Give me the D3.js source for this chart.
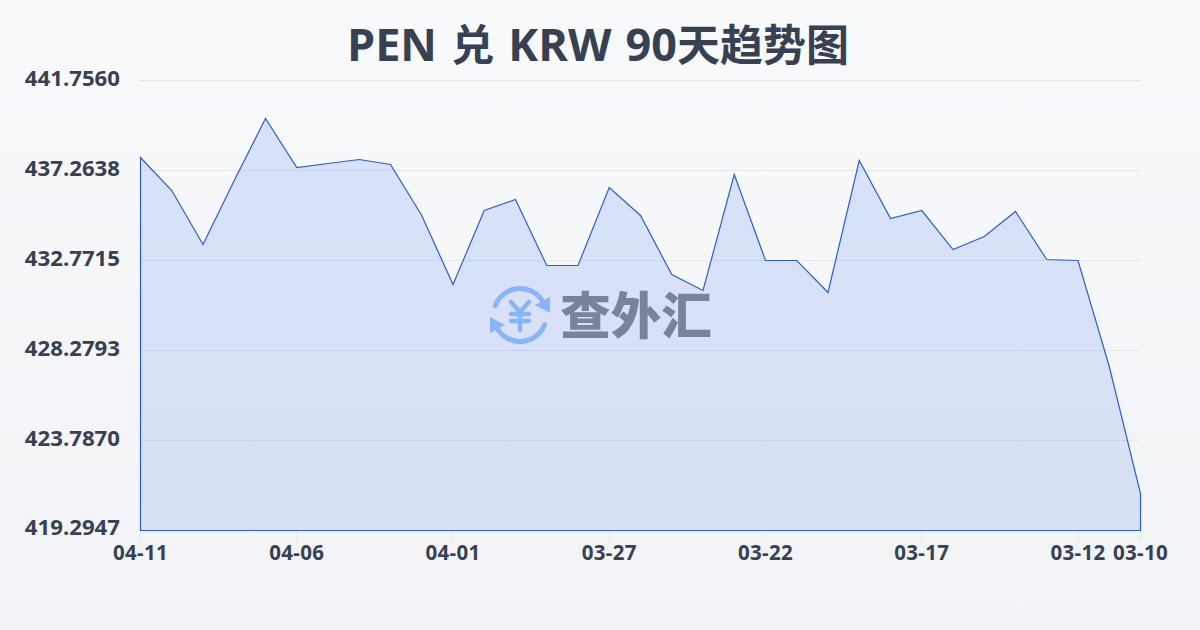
<!DOCTYPE html>
<html><head><meta charset="utf-8">
<script src="https://cdn.jsdelivr.net/npm/d3@7"></script>
<style>html,body{margin:0;padding:0;background:#f8fafc}svg{display:block}
text{font-family:"Open Sans","Noto Sans CJK SC",sans-serif}</style></head>
<body><svg id="c" width="1200" height="630"></svg>
<script>
const titleLatin = "PEN ";
const titleCjk1 = "兑";
const titleLatin2 = " KRW 90";
const titleCjk2 = "天趋势图";
const dates = ["04-11","04-10","04-09","04-08","04-07","04-06","04-05","04-04","04-03","04-02","04-01","03-31","03-30","03-29","03-28","03-27","03-26","03-25","03-24","03-23","03-22","03-21","03-20","03-19","03-18","03-17","03-16","03-15","03-14","03-13","03-12","03-11","03-10"];
const rates = [437.913,436.265,433.570,436.765,439.859,437.413,437.613,437.813,437.563,435.018,431.573,435.267,435.816,432.522,432.522,436.415,435.018,432.073,431.274,437.064,432.771,432.771,431.174,437.763,434.868,435.267,433.320,433.969,435.217,432.821,432.771,427.480,421.141];
const yTicks = [441.7560,437.2638,432.7715,428.2793,423.7870,419.2947];
const xTicks = ["04-11","04-06","04-01","03-27","03-22","03-17","03-12","03-10"];

const svg = d3.select("#c");
const defs = svg.append("defs");
const bg = defs.append("linearGradient").attr("id","bg").attr("x1",0).attr("y1",0).attr("x2",0).attr("y2",1);
bg.append("stop").attr("offset",0).attr("stop-color","#f8fafc");
bg.append("stop").attr("offset",1).attr("stop-color","#f1f3f6");
const ag = defs.append("linearGradient").attr("id","ag").attr("x1",0).attr("y1",0).attr("x2",0).attr("y2",1);
ag.append("stop").attr("offset",0).attr("stop-color","#2563eb").attr("stop-opacity",0.15);
ag.append("stop").attr("offset",1).attr("stop-color","#1d4ed8").attr("stop-opacity",0.12);
svg.append("rect").attr("width",1200).attr("height",630).attr("fill","url(#bg)");

const x = d3.scalePoint().domain(dates).range([140.5,1140.5]);
const y = d3.scaleLinear().domain([419.2947,441.7560]).range([530.5,80.5]);

const t = svg.append("text").attr("x",598).attr("y",61).attr("text-anchor","middle")
  .attr("font-weight",700).attr("fill","#374151").attr("word-spacing",2.5).attr("xml:space","preserve").style("white-space","pre");
t.append("tspan").attr("font-size",45).text(titleLatin);
t.append("tspan").attr("font-size",43).text(titleCjk1);
t.append("tspan").attr("font-size",45).text(titleLatin2);
t.append("tspan").attr("font-size",43).text(titleCjk2);

svg.append("g").selectAll("line").data(yTicks).join("line")
  .attr("x1",140).attr("x2",1140).attr("y1",d=>y(d)).attr("y2",d=>y(d))
  .attr("stroke","#e2e8f0").attr("stroke-width",1);

svg.append("g").selectAll("text").data(yTicks).join("text")
  .attr("x",120).attr("y",(d,i)=>y(d)+(i==0?5:i==5?4:6)).attr("text-anchor","end")
  .attr("font-size",22.2).attr("font-weight",700).attr("fill","#374151")
  .text(d=>d.toFixed(4));

svg.append("g").selectAll("line").data(xTicks).join("line")
  .attr("x1",d=>x(d)).attr("x2",d=>x(d)).attr("y1",531).attr("y2",541)
  .attr("stroke","#e2e8f0");
svg.append("g").selectAll("text").data(xTicks).join("text")
  .attr("x",d=>x(d)).attr("y",560).attr("text-anchor","middle")
  .attr("font-size",20.5).attr("letter-spacing",0.3).attr("font-weight",700).attr("fill","#374151").text(d=>d);

const pts = dates.map((d,i)=>({d,v:rates[i]}));
const area = d3.area().x(p=>x(p.d)).y0(y(419.2947)).y1(p=>y(p.v));
svg.append("path").datum(pts).attr("d",area).attr("fill","url(#ag)").attr("stroke","#2d5fc8").attr("stroke-width",1.2);

// watermark
const wm = svg.append("g").attr("transform","translate(520,315)");
const blue = "#8ab4f8";
const arc = d3.arc().innerRadius(24).outerRadius(29).cornerRadius(2.5);
wm.append("path").attr("fill",blue).attr("d",arc({startAngle:-1.3,endAngle:1.15}));
wm.append("path").attr("fill",blue).attr("d",arc({startAngle:1.85,endAngle:4.3}));
wm.append("path").attr("fill",blue).attr("d",d3.line()([[30,-18],[30,-2],[15,-10]]));
wm.append("path").attr("fill",blue).attr("d",d3.line()([[-30,18],[-30,2],[-15,10]]));
wm.append("path").attr("fill","none").attr("stroke",blue).attr("stroke-width",4.5).attr("stroke-linecap","round").attr("stroke-linejoin","round")
  .attr("d",d3.line()([[-9,-13],[0,-3],[9,-13]])+"M0,-3V15M-9,-1H9M-9,6H9");
svg.append("text").attr("x",636).attr("y",334).attr("text-anchor","middle").attr("font-size",50.5)
  .attr("font-weight",900).attr("fill","#79839a").style("font-family","'Noto Sans CJK SC'").text("查外汇");
</script></body></html>
